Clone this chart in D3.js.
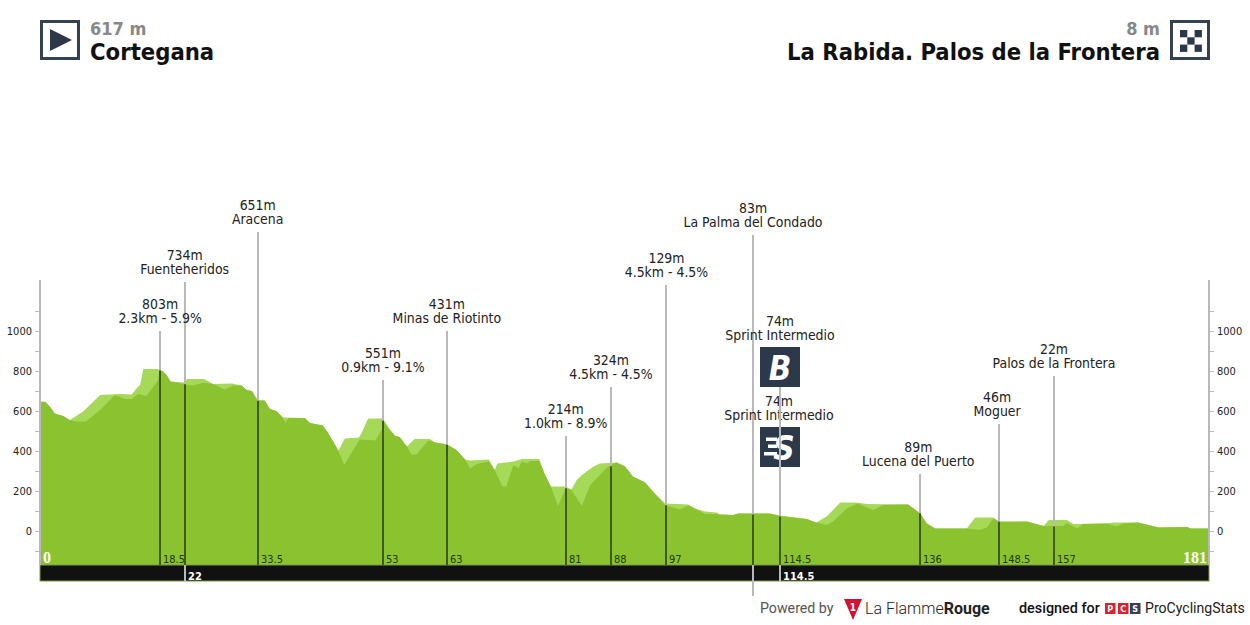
<!DOCTYPE html>
<html>
<head>
<meta charset="utf-8">
<script src="https://cdn.jsdelivr.net/npm/d3@7"></script>
<style>
    body { margin: 0; background: #fff; }
    svg { display: block; }
    text { font-family: "DejaVu Sans Condensed", "DejaVu Sans", sans-serif; }
</style>
</head>
<body>
<svg id="chart" width="1250" height="625"></svg>
<script>
// outline of everything, light green where it sticks out above the ground series
const upperProfile = [[0,646],[0.8,646],[1.5,622],[2.3,588],[3.6,575],[4.6,555],[6.7,597],[9.3,680],[12.4,685],[14.2,683],[15,715],[15.5,730],[16,810],[18.3,810],[19,800],[19.6,780],[20.2,747],[22.4,743],[22.8,760],[25.4,760],[26.8,735],[29.7,737],[31.2,727],[32,705],[32.8,700],[33.7,655],[34.8,652],[35.6,610],[36.6,600],[37.6,567],[41,565],[41.8,540],[43.8,527],[44.6,490],[45.4,447],[46.2,401],[47.2,463],[49.4,467],[50,505],[50.8,563],[53.1,563],[54.2,505],[55,475],[55.7,470],[56.8,422],[58,460],[60.4,460],[61.2,442],[63,435],[64.5,405],[65.8,358],[66.6,352],[69.5,358],[70.4,305],[70.8,338],[73.3,347],[74.6,360],[77.3,360],[78.2,280],[79.1,222],[81.4,222],[82.3,208],[83.1,255],[83.9,280],[85.7,322],[86.7,338],[89.3,342],[90.6,322],[91.8,272],[93.7,242],[94.9,197],[96.8,138],[100.4,133],[101.4,113],[103,97],[104.8,93],[105.3,83],[107.3,80],[108.1,88],[113,88],[114.6,78],[118.7,60],[120.2,43],[121.8,72],[123.9,142],[126.4,142],[128,135],[133.1,133],[134.4,133],[136.3,88],[137.3,38],[138.6,13],[143.5,13],[144.8,68],[147.6,68],[148.5,47],[152.8,47],[155.4,25],[156.2,55],[159,55],[160,35],[165.2,38],[166.2,42],[170,43],[173.2,17],[177.6,20],[178.2,13],[181,13]];
const groundProfile = [[0,646],[0.8,646],[1.5,622],[2.3,588],[3.6,575],[4.6,555],[5.4,547],[7.1,547],[9.3,605],[11.6,680],[12.4,670],[13.2,660],[14.2,660],[15.2,685],[16.5,675],[18.3,755],[18.5,803],[19,800],[19.6,780],[20.2,747],[22.4,734],[23.7,727],[25.3,743],[26.8,735],[28.6,708],[29.9,727],[31.2,727],[32,705],[32.8,700],[33.7,651],[34.8,652],[35.6,610],[36.6,600],[37.6,567],[38,540],[38.5,565],[41,565],[41.8,540],[43.8,527],[44.6,490],[45.4,447],[46.2,401],[47.1,330],[49.5,458],[50.8,455],[51.9,452],[53.05,513],[53.1,551],[54.2,505],[55,475],[55.7,470],[56.8,422],[57.5,383],[58.3,383],[60.1,452],[61.2,442],[63,431],[64.5,405],[65.8,358],[66.6,313],[67.6,335],[69.5,347],[70.4,305],[71.6,222],[72.2,222],[73.3,330],[74.1,313],[74.6,347],[75.4,338],[75.9,350],[77.3,350],[78.2,280],[79.1,222],[80.2,125],[81.4,214],[82.3,205],[83.9,125],[85.2,230],[86.7,280],[87.7,315],[88.7,335],[89.3,342],[90.6,322],[91.8,272],[93.7,242],[94.9,197],[96.8,129],[99.1,108],[100.4,128],[101.4,113],[103,85],[104.8,85],[105.3,83],[107.3,80],[108.1,88],[113,88],[114.6,74],[118.7,60],[120.2,43],[121.8,30],[122.8,47],[124.9,113],[126.6,138],[129,105],[130.6,130],[133.1,133],[134.4,133],[136.3,88],[137.3,38],[138.6,13],[143.5,13],[145.5,5],[146.6,18],[147.6,63],[148.5,46],[152.8,47],[155.4,25],[158.4,25],[159,40],[160.6,13],[161.5,35],[165.2,38],[166.7,22],[167.7,38],[170,43],[173.2,17],[177.6,20],[178.2,13],[181,13]];

const markerKm = [18.6, 22.4, 33.7, 53.1, 63, 81.4, 88.4, 97, 110.4, 114.6, 136.3, 148.5, 157];
const markerElev = [803, 734, 651, 551, 431, 214, 324, 129, 83, 74, 89, 46, 22];
const markerStem = [1000, 1245, 1495, 755, 1000, 475, 720, 1230, 1480, 720, 285, 535, 775];
const markerSub = ['2.3km - 5.9%', 'Fuenteheridos', 'Aracena', '0.9km - 9.1%', 'Minas de Riotinto', '1.0km - 8.9%', '4.5km - 4.5%', '4.5km - 4.5%', 'La Palma del Condado', 'Sprint Intermedio', 'Lucena del Puerto', 'Moguer', 'Palos de la Frontera'];
const kmLabels = ['18.5', '', '33.5', '53', '63', '81', '88', '97', '', '114.5', '136', '148.5', '157'];
const bandKm = [22.4, 114.6];
const bandLabels = ['22', '114.5'];
const yTicks = [-100, 0, 100, 200, 300, 400, 500, 600, 700, 800, 900, 1000, 1100];

const svg = d3.select('#chart');
const x = d3.scaleLinear().domain([0, 181]).range([40, 1209]);
const y = d3.scaleLinear().domain([-170, 1000]).range([565, 331]);

const green = '#8ac32f';
const lightGreen = '#a6d957';
const darkGreen = '#3f5c12';
const stemGrey = '#b9b9b9';
const navy = '#2b394b';
const labelFont = '"DejaVu Sans Condensed", "DejaVu Sans", sans-serif';

const area = d3.area().x((d) => x(d[0])).y0(y(-170)).y1((d) => y(d[1]));
svg.append('path').attr('d', area(upperProfile)).attr('fill', lightGreen);
svg.append('path').attr('d', area(groundProfile)).attr('fill', green);

// black band below the profile
svg.append('rect').attr('x', 40).attr('y', 565).attr('width', 1169).attr('height', 16)
    .attr('fill', '#111').attr('stroke', '#7f9a45').attr('stroke-width', 1);

// both elevation axes
[[40, -1], [1209, 1]].forEach(([pos, side]) => {
    const axisGen = (side < 0 ? d3.axisLeft(y) : d3.axisRight(y))
        .tickValues(yTicks)
        .tickSize(5)
        .tickFormat((d) => (d % 200 === 0 ? d : ''));
    const g = svg.append('g').attr('transform', `translate(${pos},0)`).call(axisGen);
    g.select('.domain').remove();
    g.selectAll('line').attr('stroke', '#bbb');
    g.selectAll('text').attr('font-size', 11).attr('fill', '#222').style('font-family', labelFont);
    g.append('line').attr('y1', 280).attr('y2', 565).attr('stroke', stemGrey).attr('stroke-width', 2);
});

// stems, grey over the sky and dark inside the profile
const bottom = (km) => (bandKm.includes(km) ? 581 : km === 110.4 ? 596 : 565);
markerKm.forEach((km, i) => {
    const px = Math.round(x(km));
    svg.append('line').attr('x1', px).attr('x2', px)
        .attr('y1', y(markerStem[i])).attr('y2', bottom(km))
        .attr('stroke', stemGrey).attr('stroke-width', 2);
    svg.append('line').attr('x1', px).attr('x2', px)
        .attr('y1', y(markerElev[i])).attr('y2', 565)
        .attr('stroke', darkGreen).attr('stroke-width', 2);
    svg.append('text').attr('x', px + 3).attr('y', 563)
        .attr('font-size', 11).attr('fill', '#1f3a08').text(kmLabels[i]);
});

bandKm.forEach((km, i) => {
    svg.append('text').attr('x', Math.round(x(km)) + 3).attr('y', 580)
        .attr('font-size', 11).attr('font-weight', 'bold').attr('fill', '#fff').text(bandLabels[i]);
});

svg.append('text').attr('x', 43).attr('y', 563)
    .attr('font-size', 16).attr('font-weight', 'bold').attr('fill', '#fff').style('font-family', '"Liberation Serif", serif').text('0');
svg.append('text').attr('x', 1207).attr('y', 563).attr('text-anchor', 'end')
    .attr('font-size', 16).attr('font-weight', 'bold').attr('fill', '#fff').style('font-family', '"Liberation Serif", serif').text('181');

// two line captions above the stems
function caption(px, baseline, first, second) {
    const g = svg.append('g').attr('text-anchor', 'middle').attr('font-size', 13.9).attr('fill', '#222');
    g.append('text').attr('x', px).attr('y', baseline - 14).text(first);
    g.append('text').attr('x', px).attr('y', baseline).text(second);
}
markerKm.forEach((km, i) => {
    if (km !== 114.6) caption(x(km) - (km === 136.3 || km === 148.5 ? 2 : 0), y(markerStem[i]) - 8, markerElev[i] + 'm', markerSub[i]);
});

// sprint markers stacked above 114.5
const sprintX = Math.round(x(114.6));
caption(sprintX, 340, '74m', 'Sprint Intermedio');
caption(sprintX - 1, 420, '74m', 'Sprint Intermedio');
svg.append('rect').attr('x', sprintX - 20).attr('y', 347).attr('width', 40).attr('height', 40).attr('fill', navy);
svg.append('text').attr('x', sprintX).attr('y', 380).attr('text-anchor', 'middle').attr('font-size', 33)
    .attr('font-weight', 'bold').attr('font-style', 'italic').attr('fill', '#fff').text('B');
svg.append('rect').attr('x', sprintX - 20).attr('y', 427).attr('width', 40).attr('height', 40).attr('fill', navy);
svg.append('text').attr('x', sprintX + 4).attr('y', 460).attr('text-anchor', 'middle').attr('font-size', 33)
    .attr('font-weight', 'bold').attr('font-style', 'italic').attr('fill', '#fff').text('S');
[[437.5, 11, 766], [444.5, 9, 768], [452, 13, 764]].forEach(([ly, w, lx]) => {
    svg.append('rect').attr('x', lx).attr('y', ly).attr('width', w).attr('height', 3.5).attr('fill', '#fff');
});
svg.append('line').attr('x1', sprintX).attr('x2', sprintX).attr('y1', 387).attr('y2', y(74))
    .attr('stroke', stemGrey).attr('stroke-width', 2);

// header
svg.append('rect').attr('x', 41.5).attr('y', 21.5).attr('width', 37).attr('height', 37)
    .attr('fill', '#fff').attr('stroke', '#36424f').attr('stroke-width', 3);
svg.append('path').attr('d', 'M50,29L72,40L50,51Z').attr('fill', navy);
svg.append('text').attr('x', 90).attr('y', 35).attr('font-size', 18).attr('font-weight', 'bold').attr('fill', '#888').text('617 m');
svg.append('text').attr('x', 90).attr('y', 60).attr('font-size', 23.6).attr('font-weight', 'bold').attr('fill', '#111').text('Cortegana');

svg.append('rect').attr('x', 1171.5).attr('y', 21.5).attr('width', 37).attr('height', 37)
    .attr('fill', '#fff').attr('stroke', '#36424f').attr('stroke-width', 3);
d3.range(3).forEach((row) => d3.range(3).forEach((col) => {
    if ((row + col) % 2 === 0) {
        svg.append('rect').attr('x', 1180 + col * 7.3).attr('y', 30 + row * 7.3)
            .attr('width', 7.3).attr('height', 7.3).attr('fill', navy);
    }
}));
svg.append('text').attr('x', 1160).attr('y', 35).attr('text-anchor', 'end').attr('font-size', 18).attr('font-weight', 'bold').attr('fill', '#888').text('8 m');
svg.append('text').attr('x', 1160).attr('y', 60).attr('text-anchor', 'end').attr('font-size', 23.6).attr('font-weight', 'bold').attr('fill', '#111').text('La Rabida. Palos de la Frontera');

// footer
svg.append('text').attr('x', 760).attr('y', 613).attr('font-size', 14.2).attr('fill', '#555').style('font-family', 'Roboto, sans-serif').text('Powered by');
svg.append('path').attr('d', 'M844,599L862,599L853,620Z').attr('fill', '#d5102e');
svg.append('text').attr('x', 853).attr('y', 611).attr('text-anchor', 'middle').attr('font-size', 10).attr('font-weight', 'bold').attr('fill', '#fff').text('1');
const brand = svg.append('text').attr('x', 865).attr('y', 614).attr('font-size', 16).attr('fill', '#222').style('font-family', 'Roboto, sans-serif');
brand.append('tspan').attr('font-weight', 300).text('La Flamme');
brand.append('tspan').attr('font-weight', 'bold').text('Rouge');
svg.append('text').attr('x', 1019).attr('y', 613).attr('font-size', 14.4).attr('font-weight', 500).attr('fill', '#111').style('font-family', 'Roboto, sans-serif').text('designed for');
[[1105, '#d8232f', 'P'], [1118, '#d8232f', 'C'], [1130, '#36424f', 'S']].forEach(([bx, col, ch]) => {
    svg.append('rect').attr('x', bx).attr('y', 603).attr('width', 10.5).attr('height', 11).attr('fill', col);
    svg.append('text').attr('x', bx + 5.2).attr('y', 612).attr('text-anchor', 'middle').attr('font-size', 9).attr('font-weight', 'bold').attr('fill', '#fff').text(ch);
});
svg.append('text').attr('x', 1145).attr('y', 613).attr('font-size', 14.1).attr('fill', '#222').style('font-family', 'Roboto, sans-serif').text('ProCyclingStats');
</script>
</body>
</html>
